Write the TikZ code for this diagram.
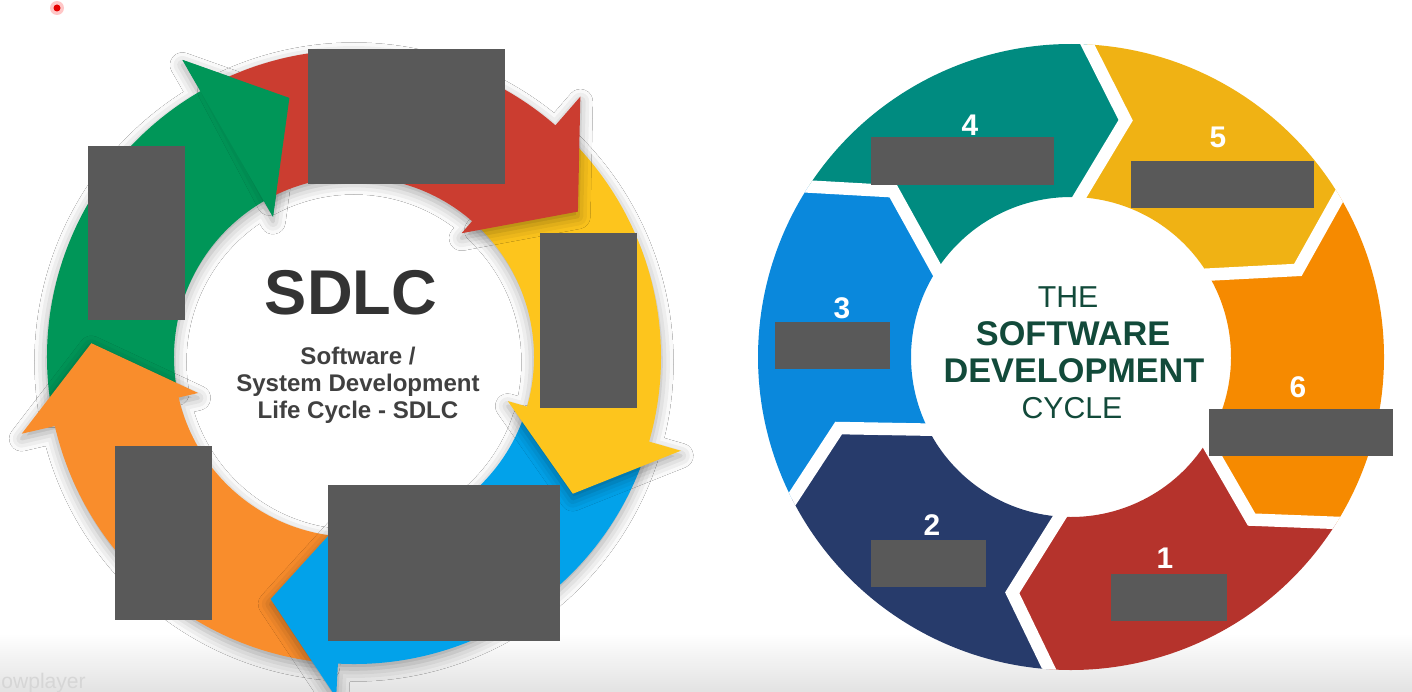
\documentclass[tikz,border=0pt]{standalone}
\usepackage{fontspec}
\setmainfont{Liberation Sans}
\usetikzlibrary{calc, shadows.blur}
\definecolor{arrowgreen}{RGB}{0, 150, 88}
\definecolor{arrowred}{RGB}{203, 61, 48}
\definecolor{arrowyellow}{RGB}{253, 197, 29}
\definecolor{arrowblue}{RGB}{2, 162, 234}
\definecolor{arroworange}{RGB}{249, 141, 44}
\definecolor{segteal}{RGB}{0, 139, 128}
\definecolor{segyellow}{RGB}{240, 178, 20}
\definecolor{segorange}{RGB}{246, 138, 0}
\definecolor{segred}{RGB}{181, 51, 44}
\definecolor{segnavy}{RGB}{39, 59, 107}
\definecolor{segblue}{RGB}{10, 136, 220}
\definecolor{titlegray}{RGB}{51, 51, 51}
\definecolor{subgray}{RGB}{64, 64, 64}
\definecolor{cyclegreen}{RGB}{18, 74, 58}
\definecolor{redactgray}{RGB}{89, 89, 89}
\tikzstyle{arrowshadow} = [blur shadow={shadow blur radius=2.5mm, shadow xshift=0mm, shadow yshift=-1mm, shadow opacity=36}]
\tikzstyle{redactbox} = [fill=redactgray]
\tikzstyle{segmentgap} = [white, line width=2.5mm, line join=miter]
\tikzstyle{stepnum} = [text=white, font=\fontsize{17}{20}\selectfont\bfseries]
\tikzstyle{cycleword} = [text=cyclegreen, inner sep=0pt]

\begin{document}
\begin{tikzpicture}[x=0.02cm, y=0.02cm]
    \useasboundingbox (0,0) rectangle (1412,691);
    % Background
    \fill[white] (0,0) rectangle (1412,691);
    \shade[top color=white, bottom color=black!11] (0,0) rectangle (1412,58);
    \fill[red!22] (57,683) circle[radius=7];
    \fill[red!90!black] (57,683) circle[radius=3.5];
    \node[anchor=base west, text=black!16, font=\fontsize{12}{14}\selectfont, inner sep=0pt] (player) at (1,3) {owplayer};

    % Left ring: five curved arrows
    \begin{scope}[shift={(354,334)}]
        \fill[arrowgreen, arrowshadow] (190:307) arc[start angle=190, end angle=120, radius=307] -- (120:343) -- (104:267) -- (120:162) -- (120:180) arc[start angle=120, end angle=190, radius=180] -- cycle;
        \fill[arroworange, arrowshadow] (265:307) arc[start angle=265, end angle=193, radius=307] -- (193:341) -- (177:263) -- (193:160) -- (193:180) arc[start angle=193, end angle=265, radius=180] -- cycle;
        \fill[arrowblue, arrowshadow] (-18:307) arc[start angle=-18, end angle=-93, radius=307] -- (-93:341) -- (-109:256) -- (-93:160) -- (-93:180) arc[start angle=-93, end angle=-18, radius=180] -- cycle;
        \fill[arrowyellow, arrowshadow] (47:307) arc[start angle=47, end angle=-16, radius=307] -- (-16:340) -- (-32:258) -- (-16:160) -- (-16:180) arc[start angle=-16, end angle=47, radius=180] -- cycle;
        \fill[arrowred, arrowshadow] (118:307) arc[start angle=118, end angle=49, radius=307] -- (49:345) -- (33:267) -- (49:164) -- (49:180) arc[start angle=49, end angle=118, radius=180] -- cycle;
        % green head back over the red tail
        \fill[arrowgreen] (120:343) -- (104:267) -- (120:162) -- cycle;
    \end{scope}

    % Left centre text
    \node[text=titlegray, font=\fontsize{36}{40}\selectfont\bfseries] (sdlc) at (351,398) {SDLC};
    \node[text=subgray, font=\fontsize{13.7}{15.3}\selectfont\bfseries, align=center] (sdlcsub) at (358,306) {Software /\\System Development\\Life Cycle - SDLC};

    % Left redactions
    \fill[redactbox] (308,642) rectangle (505,507);
    \fill[redactbox] (88,545) rectangle (185,371);
    \fill[redactbox] (540,458) rectangle (637,283);
    \fill[redactbox] (115,245) rectangle (212,71);
    \fill[redactbox] (328,206) rectangle (560,50);

    % Right ring: six chevron segments
    \begin{scope}[shift={(1071,334)}]
        \fill[segteal] (147:313) arc[start angle=147, end angle=87, radius=313] -- (77:243) -- (87:160) arc[start angle=87, end angle=147, radius=160] -- (137:243) -- cycle;
        \fill[segyellow] (87:313) arc[start angle=87, end angle=31, radius=313] -- (21:243) -- (31:160) arc[start angle=31, end angle=87, radius=160] -- (77:243) -- cycle;
        \fill[segorange] (31:313) arc[start angle=31, end angle=-32, radius=313] -- (-42:243) -- (-32:160) arc[start angle=-32, end angle=31, radius=160] -- (21:243) -- cycle;
        \fill[segred] (-32:313) arc[start angle=-32, end angle=-94, radius=313] -- (-104:243) -- (-94:160) arc[start angle=-94, end angle=-32, radius=160] -- (-42:243) -- cycle;
        \fill[segnavy] (-94:313) arc[start angle=-94, end angle=-153, radius=313] -- (-163:243) -- (-153:160) arc[start angle=-153, end angle=-94, radius=160] -- (-104:243) -- cycle;
        \fill[segblue] (207:313) arc[start angle=207, end angle=147, radius=313] -- (137:243) -- (147:160) arc[start angle=147, end angle=207, radius=160] -- (197:243) -- cycle;
        % white gaps between segments
        \begin{scope}
            \clip (0,0) circle[radius=313];
            \foreach \e in {147,87,31,-32,-94,-153}
                \draw[segmentgap] ($(\e-10:243)!1.4!(\e:160)$) -- (\e-10:243) -- ($(\e-10:243)!1.4!(\e:313)$);
        \end{scope}
    \end{scope}

    % Step numbers
    \node[stepnum] (num4) at (970,566) {4};
    \node[stepnum] (num5) at (1218,554) {5};
    \node[stepnum] (num6) at (1298,304) {6};
    \node[stepnum] (num1) at (1165,133) {1};
    \node[stepnum] (num2) at (932,166) {2};
    \node[stepnum] (num3) at (842,383) {3};

    % Right redactions
    \fill[redactbox] (871,554) rectangle (1054,506);
    \fill[redactbox] (1131,530) rectangle (1314,483);
    \fill[redactbox] (1209,282) rectangle (1393,235);
    \fill[redactbox] (1111,117) rectangle (1227,70);
    \fill[redactbox] (871,151) rectangle (986,104);
    \fill[redactbox] (775,369) rectangle (890,322);

    % Right centre text
    \node[cycleword, font=\fontsize{17.2}{20}\selectfont] (the) at (1068,394) {THE};
    \node[cycleword, font=\fontsize{19.5}{22}\selectfont\bfseries] (software) at (1073,357) {SOFTWARE};
    \node[cycleword, font=\fontsize{19.5}{22}\selectfont\bfseries] (development) at (1074,320) {DEVELOPMENT};
    \node[cycleword, font=\fontsize{17.2}{20}\selectfont] (cycle) at (1072,283) {CYCLE};
\end{tikzpicture}
\end{document}
